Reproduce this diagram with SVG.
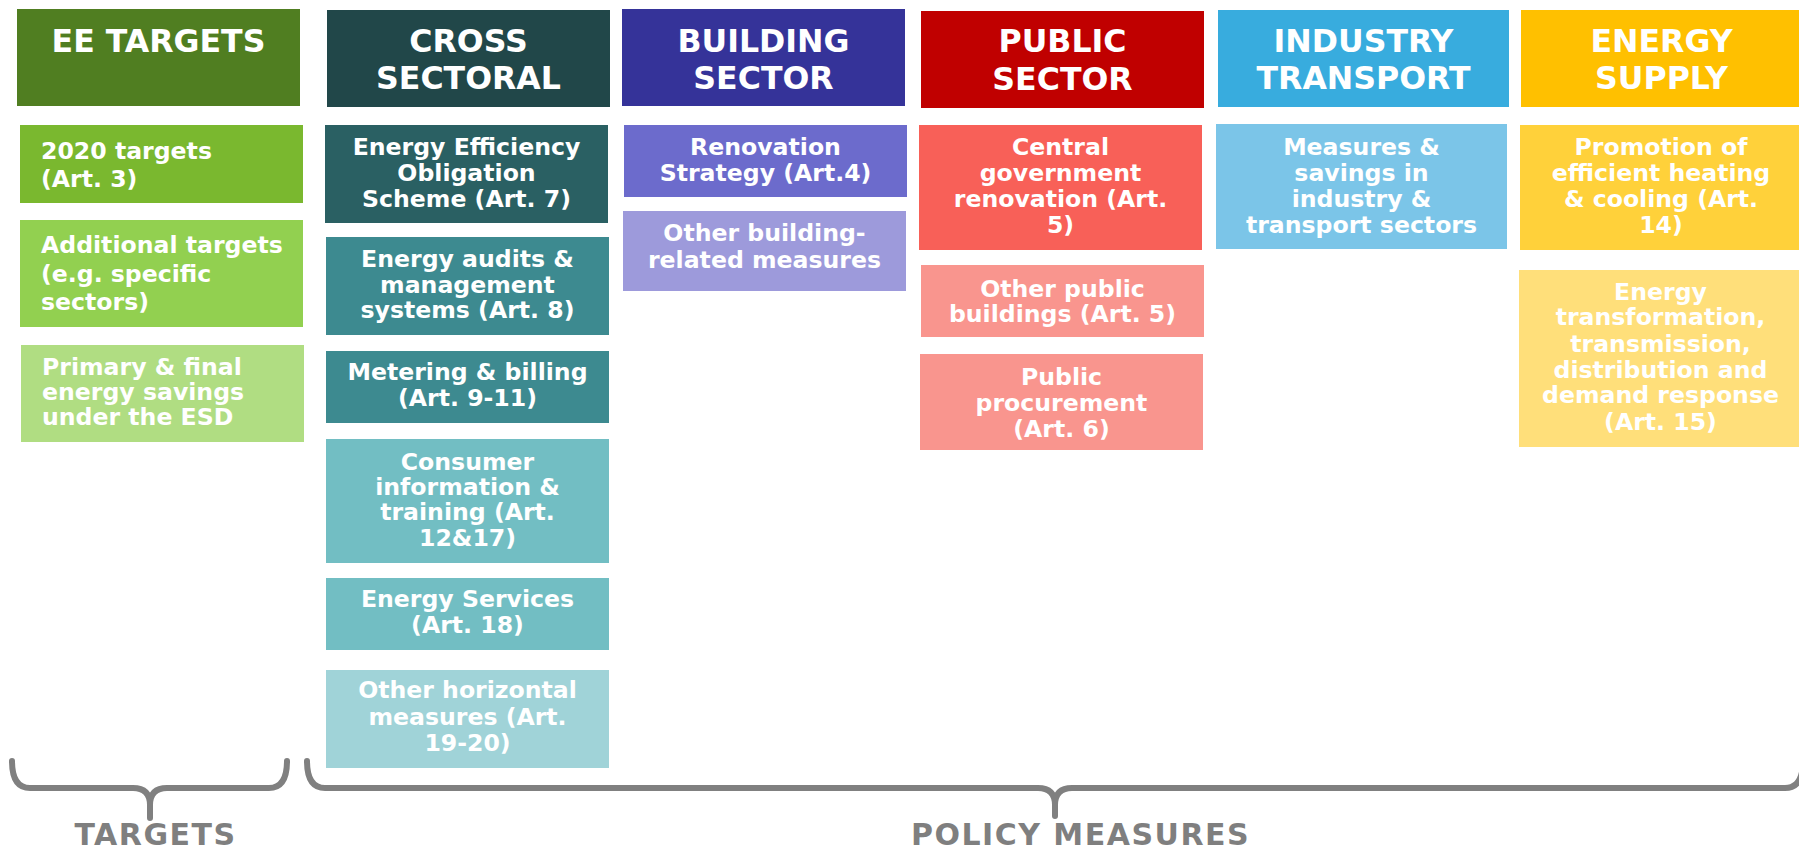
<svg xmlns="http://www.w3.org/2000/svg" width="1799" height="853" viewBox="0 0 1799 853">
<style>
.hd{font-family:"DejaVu Sans",Verdana,sans-serif;font-weight:bold;font-size:31.6px;fill:#fff;text-anchor:middle}
.tx{font-family:"DejaVu Sans",Verdana,sans-serif;font-weight:bold;font-size:23.6px;fill:#fff;text-anchor:middle}
.tl{text-anchor:start}
.lb{font-family:"DejaVu Sans",Verdana,sans-serif;font-weight:bold;font-size:30px;fill:#7f7f7f;text-anchor:middle;letter-spacing:1.5px}
.br{fill:none;stroke:#808080;stroke-width:6;stroke-linecap:round;stroke-linejoin:round}
</style>
<rect width="1799" height="853" fill="#fff"/>

<g id="ee-targets">
<rect x="17" y="9" width="283" height="97" fill="#507e21"/>
<text class="hd" x="158.5" y="52">EE TARGETS</text>
</g>
<g id="cross-sectoral">
<rect x="327" y="10" width="283" height="97" fill="#214749"/>
<text class="hd" x="468.5" y="52">CROSS</text>
<text class="hd" x="468.5" y="89">SECTORAL</text>
</g>
<g id="building-sector">
<rect x="622" y="9" width="283" height="97" fill="#353399"/>
<text class="hd" x="763.5" y="52">BUILDING</text>
<text class="hd" x="763.5" y="89">SECTOR</text>
</g>
<g id="public-sector">
<rect x="921" y="11" width="283" height="97" fill="#c00000"/>
<text class="hd" x="1062.5" y="52">PUBLIC</text>
<text class="hd" x="1062.5" y="90">SECTOR</text>
</g>
<g id="industry-transport">
<rect x="1218" y="10" width="291" height="97" fill="#38acde"/>
<text class="hd" x="1363.5" y="52">INDUSTRY</text>
<text class="hd" x="1363.5" y="89">TRANSPORT</text>
</g>
<g id="energy-supply">
<rect x="1521" y="10" width="282" height="97" fill="#ffc000"/>
<text class="hd" x="1661.5" y="52">ENERGY</text>
<text class="hd" x="1661.5" y="89">SUPPLY</text>
</g>

<g id="t-2020">
<rect x="20" y="125" width="283" height="78" fill="#7ab82f"/>
<text class="tx tl" x="41" y="159">2020 targets</text>
<text class="tx tl" x="41" y="187">(Art. 3)</text>
</g>
<g id="t-additional">
<rect x="20" y="220" width="283" height="107" fill="#92d050"/>
<text class="tx tl" x="41" y="253">Additional targets</text>
<text class="tx tl" x="41" y="282">(e.g. specific</text>
<text class="tx tl" x="41" y="310">sectors)</text>
</g>
<g id="t-primary">
<rect x="21" y="345" width="283" height="97" fill="#b0dd82"/>
<text class="tx tl" x="42" y="375">Primary &amp; final</text>
<text class="tx tl" x="42" y="400">energy savings</text>
<text class="tx tl" x="42" y="425">under the ESD</text>
</g>

<g id="c-eeos">
<rect x="325" y="125" width="283" height="98" fill="#2a6063"/>
<text class="tx" x="466.5" y="155">Energy Efficiency</text>
<text class="tx" x="466.5" y="181">Obligation</text>
<text class="tx" x="466.5" y="207">Scheme (Art. 7)</text>
</g>
<g id="c-audits">
<rect x="326" y="237" width="283" height="98" fill="#3d8a90"/>
<text class="tx" x="467.5" y="267">Energy audits &amp;</text>
<text class="tx" x="467.5" y="293">management</text>
<text class="tx" x="467.5" y="318">systems (Art. 8)</text>
</g>
<g id="c-metering">
<rect x="326" y="351" width="283" height="72" fill="#3d8a90"/>
<text class="tx" x="467.5" y="380">Metering &amp; billing</text>
<text class="tx" x="467.5" y="406">(Art. 9-11)</text>
</g>
<g id="c-consumer">
<rect x="326" y="439" width="283" height="124" fill="#72bec3"/>
<text class="tx" x="467.5" y="470">Consumer</text>
<text class="tx" x="467.5" y="495">information &amp;</text>
<text class="tx" x="467.5" y="520">training (Art.</text>
<text class="tx" x="467.5" y="546">12&amp;17)</text>
</g>
<g id="c-services">
<rect x="326" y="578" width="283" height="72" fill="#72bec3"/>
<text class="tx" x="467.5" y="607">Energy Services</text>
<text class="tx" x="467.5" y="633">(Art. 18)</text>
</g>
<g id="c-other">
<rect x="326" y="670" width="283" height="98" fill="#a0d3d8"/>
<text class="tx" x="467.5" y="698">Other horizontal</text>
<text class="tx" x="467.5" y="725">measures (Art.</text>
<text class="tx" x="467.5" y="751">19-20)</text>
</g>

<g id="b-renovation">
<rect x="624" y="125" width="283" height="72" fill="#6c6bcc"/>
<text class="tx" x="765.5" y="155">Renovation</text>
<text class="tx" x="765.5" y="181">Strategy (Art.4)</text>
</g>
<g id="b-other">
<rect x="623" y="211" width="283" height="80" fill="#9d9adb"/>
<text class="tx" x="764.5" y="241">Other building-</text>
<text class="tx" x="764.5" y="268">related measures</text>
</g>

<g id="p-central">
<rect x="919" y="125" width="283" height="125" fill="#f86058"/>
<text class="tx" x="1060.5" y="155">Central</text>
<text class="tx" x="1060.5" y="181">government</text>
<text class="tx" x="1060.5" y="207">renovation (Art.</text>
<text class="tx" x="1060.5" y="233">5)</text>
</g>
<g id="p-other">
<rect x="921" y="265" width="283" height="72" fill="#f9958e"/>
<text class="tx" x="1062.5" y="297">Other public</text>
<text class="tx" x="1062.5" y="322">buildings (Art. 5)</text>
</g>
<g id="p-procurement">
<rect x="920" y="354" width="283" height="96" fill="#f9958e"/>
<text class="tx" x="1061.5" y="385">Public</text>
<text class="tx" x="1061.5" y="411">procurement</text>
<text class="tx" x="1061.5" y="437">(Art. 6)</text>
</g>

<g id="i-measures">
<rect x="1216" y="124" width="291" height="125" fill="#7bc5e8"/>
<text class="tx" x="1361.5" y="155">Measures &amp;</text>
<text class="tx" x="1361.5" y="181">savings in</text>
<text class="tx" x="1361.5" y="207">industry &amp;</text>
<text class="tx" x="1361.5" y="233">transport sectors</text>
</g>

<g id="e-promotion">
<rect x="1520" y="125" width="282" height="125" fill="#ffd13a"/>
<text class="tx" x="1661" y="155">Promotion of</text>
<text class="tx" x="1661" y="181">efficient heating</text>
<text class="tx" x="1661" y="207">&amp; cooling (Art.</text>
<text class="tx" x="1661" y="233">14)</text>
</g>
<g id="e-transformation">
<rect x="1519" y="270" width="283" height="177" fill="#ffdf7a"/>
<text class="tx" x="1660.5" y="300">Energy</text>
<text class="tx" x="1660.5" y="325">transformation,</text>
<text class="tx" x="1660.5" y="352">transmission,</text>
<text class="tx" x="1660.5" y="378">distribution and</text>
<text class="tx" x="1660.5" y="403">demand response</text>
<text class="tx" x="1660.5" y="430">(Art. 15)</text>
</g>

<g id="connectors">
<path class="br" d="M12,761 Q12,788 30,788 L133,788 Q150,788 150,805 L150,818 M287,761 Q287,788 269,788 L167,788 Q150,788 150,805"/>
<path class="br" d="M307,761 Q307,788 325,788 L1038,788 Q1055,788 1055,805 L1055,816 M1803,761 Q1803,788 1785,788 L1072,788 Q1055,788 1055,805"/>
</g>

<g id="labels">
<text class="lb" x="155.5" y="845">TARGETS</text>
<text class="lb" x="1080.5" y="845">POLICY MEASURES</text>
</g>
</svg>
